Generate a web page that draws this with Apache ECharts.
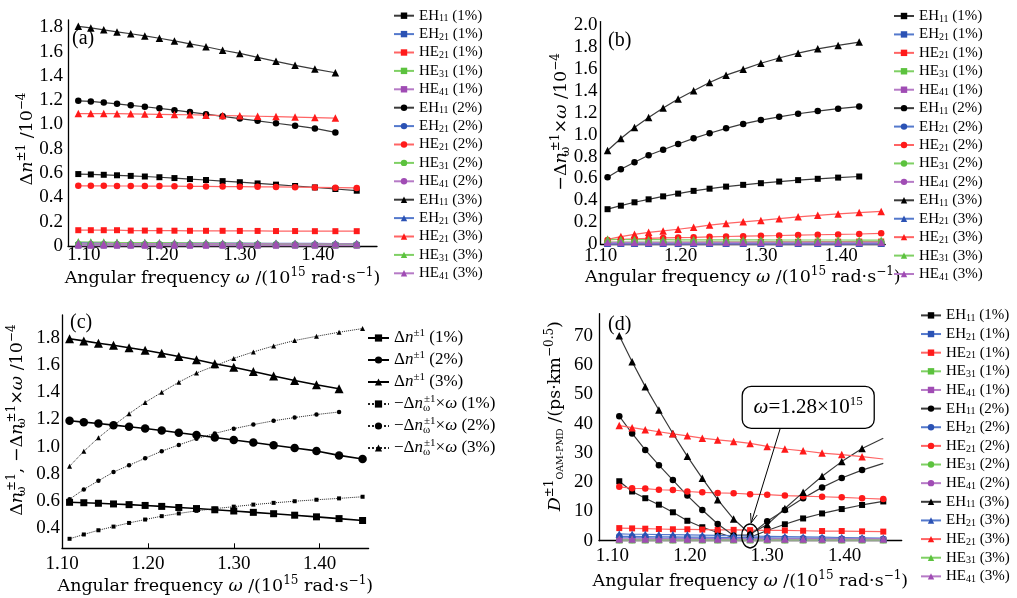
<!DOCTYPE html>
<html>
<head>
<meta charset="utf-8">
<title>OAM-PMD</title>
<script src="https://cdn.jsdelivr.net/npm/echarts@6.0.0/dist/echarts.min.js"></script>
<style>
  html, body { margin: 0; padding: 0; background: #fff; }
  #main { width: 1017px; height: 598px; }
</style>
</head>
<body>
<div id="main"></div>
<script>
// angular frequency samples, 10^15 rad/s (lambda 1725 ... 1300 nm, step 25 nm)
var omega = [1.0927, 1.1088, 1.1254, 1.1424, 1.1600, 1.1781, 1.1968, 1.2161, 1.2360, 1.2566,
             1.2779, 1.3000, 1.3228, 1.3464, 1.3709, 1.3963, 1.4226, 1.4500];

var xTicks  = [1.10, 1.20, 1.30, 1.40];
var yTicksA = [0, 0.2, 0.4, 0.6, 0.8, 1.0, 1.2, 1.4, 1.6, 1.8];
var yTicksB = [0, 0.2, 0.4, 0.6, 0.8, 1.0, 1.2, 1.4, 1.6, 1.8, 2.0];
var yTicksC = [0.4, 0.6, 0.8, 1.0, 1.2, 1.4, 1.6, 1.8];
var yTicksD = [0, 10, 20, 30, 40, 50, 60, 70];

// Δn of EH11 (10^-4), used in (a) and (c)
var dn1 = [0.592, 0.589, 0.586, 0.582, 0.577, 0.572, 0.566, 0.559, 0.551, 0.543, 0.534, 0.525, 0.515, 0.505, 0.494, 0.482, 0.469, 0.455];
var dn2 = [1.195, 1.19, 1.18, 1.17, 1.158, 1.146, 1.133, 1.118, 1.102, 1.085, 1.067, 1.049, 1.03, 1.01, 0.99, 0.968, 0.935, 0.908];
var dn3 = [1.808, 1.795, 1.779, 1.762, 1.747, 1.729, 1.71, 1.688, 1.664, 1.64, 1.611, 1.585, 1.553, 1.52, 1.487, 1.456, 1.426];

// (a) other modes, from omega[0]
var aHE21_1 = [0.13, 0.13, 0.13, 0.13, 0.127, 0.127, 0.126, 0.126, 0.125, 0.125, 0.125, 0.124, 0.124, 0.123, 0.123, 0.122, 0.122, 0.122];
var aHE21_2 = [0.495, 0.495, 0.495, 0.494, 0.494, 0.493, 0.493, 0.492, 0.491, 0.49, 0.489, 0.488, 0.487, 0.486, 0.484, 0.482, 0.48, 0.478];
var aHE21_3 = [1.09, 1.09, 1.09, 1.089, 1.088, 1.086, 1.084, 1.082, 1.08, 1.077, 1.074, 1.071, 1.068, 1.065, 1.061, 1.057, 1.053];
var aEH21_1 = [0.006, 0.006, 0.006, 0.006, 0.006, 0.006, 0.006, 0.006, 0.006, 0.006, 0.006, 0.006, 0.006, 0.006, 0.006, 0.006, 0.006, 0.006];
var aEH21_2 = [0.013, 0.013, 0.013, 0.013, 0.013, 0.013, 0.013, 0.013, 0.013, 0.013, 0.013, 0.013, 0.013, 0.013, 0.013, 0.013, 0.013, 0.013];
var aEH21_3 = [0.028, 0.028, 0.027, 0.027, 0.026, 0.026, 0.025, 0.025, 0.024, 0.024, 0.023, 0.023, 0.022, 0.022, 0.021, 0.021, 0.02, 0.02];
var aHE31_1 = [0.007, 0.007, 0.007, 0.007, 0.007, 0.007, 0.007, 0.007, 0.007, 0.007, 0.007, 0.007, 0.007, 0.007, 0.007, 0.007, 0.007, 0.007];
var aHE31_2 = [0.015, 0.015, 0.015, 0.014, 0.014, 0.014, 0.014, 0.013, 0.013, 0.013, 0.013, 0.012, 0.012, 0.012, 0.012, 0.011, 0.011, 0.011];
var aHE31_3 = [0.035, 0.033, 0.032, 0.03, 0.029, 0.028, 0.027, 0.026, 0.025, 0.024, 0.023, 0.022, 0.021, 0.02, 0.019, 0.018, 0.017, 0.016];
var aHE41_1 = [0.003, 0.003, 0.003, 0.003, 0.003, 0.003, 0.003, 0.003, 0.003, 0.003, 0.003, 0.003, 0.003, 0.003, 0.003, 0.003, 0.003, 0.003];
var aHE41_2 = [0.007, 0.007, 0.007, 0.007, 0.007, 0.007, 0.007, 0.007, 0.007, 0.007, 0.007, 0.007, 0.007, 0.007, 0.007, 0.007, 0.007, 0.007];
var aHE41_3 = [0.021, 0.021, 0.021, 0.02, 0.02, 0.02, 0.02, 0.02, 0.019, 0.019, 0.019, 0.019, 0.019, 0.018, 0.018, 0.018, 0.018, 0.018];

// -Δn_ω × ω of EH11 (10^-4), from omega[1], used in (b) and (c)
var dnw1 = [0.32, 0.352, 0.383, 0.41, 0.437, 0.462, 0.487, 0.507, 0.526, 0.542, 0.557, 0.572, 0.585, 0.597, 0.608, 0.618, 0.63];
var dnw2 = [0.612, 0.684, 0.748, 0.812, 0.862, 0.914, 0.966, 1.012, 1.057, 1.097, 1.132, 1.162, 1.19, 1.214, 1.236, 1.255];
var dnw3 = [0.855, 0.965, 1.065, 1.155, 1.242, 1.325, 1.4, 1.475, 1.542, 1.595, 1.65, 1.698, 1.742, 1.782, 1.813, 1.843, 1.87];

// (b) other modes, from omega[1]
var bHE21_1 = [0.012, 0.013, 0.014, 0.015, 0.016, 0.017, 0.018, 0.019, 0.02, 0.021, 0.022, 0.022, 0.023, 0.024, 0.024, 0.025, 0.025];
var bHE21_2 = [0.04, 0.046, 0.05, 0.054, 0.058, 0.061, 0.064, 0.068, 0.071, 0.074, 0.077, 0.08, 0.084, 0.087, 0.09, 0.094, 0.1];
var bHE21_3 = [0.045, 0.07, 0.091, 0.109, 0.122, 0.137, 0.155, 0.175, 0.19, 0.205, 0.218, 0.234, 0.25, 0.264, 0.277, 0.289, 0.3];
var bEH21_1 = [0.004, 0.004, 0.004, 0.004, 0.004, 0.004, 0.004, 0.004, 0.004, 0.004, 0.004, 0.004, 0.004, 0.004, 0.004, 0.004, 0.004];
var bEH21_2 = [0.007, 0.007, 0.007, 0.007, 0.007, 0.007, 0.007, 0.007, 0.007, 0.007, 0.007, 0.007, 0.007, 0.007, 0.007, 0.007, 0.007];
var bEH21_3 = [0.012, 0.012, 0.012, 0.012, 0.012, 0.012, 0.012, 0.012, 0.012, 0.012, 0.012, 0.012, 0.012, 0.012, 0.012, 0.012, 0.012];
var bHE31_1 = [0.01, 0.01, 0.01, 0.01, 0.01, 0.01, 0.01, 0.01, 0.01, 0.01, 0.01, 0.01, 0.01, 0.01, 0.01, 0.01, 0.01];
var bHE31_2 = [0.02, 0.02, 0.02, 0.02, 0.02, 0.02, 0.02, 0.02, 0.02, 0.02, 0.02, 0.02, 0.02, 0.02, 0.02, 0.02, 0.02];
var bHE31_3 = [0.045, 0.044, 0.043, 0.042, 0.042, 0.041, 0.041, 0.04, 0.04, 0.04, 0.04, 0.039, 0.039, 0.039, 0.039, 0.038, 0.038];
var bHE41_1 = [0.004, 0.004, 0.004, 0.004, 0.004, 0.004, 0.004, 0.004, 0.004, 0.004, 0.004, 0.004, 0.004, 0.004, 0.004, 0.004, 0.004];
var bHE41_2 = [0.01, 0.01, 0.01, 0.01, 0.01, 0.01, 0.01, 0.01, 0.01, 0.01, 0.01, 0.01, 0.01, 0.01, 0.01, 0.01, 0.01];
var bHE41_3 = [0.018, 0.018, 0.018, 0.018, 0.018, 0.018, 0.018, 0.018, 0.018, 0.018, 0.018, 0.018, 0.018, 0.018, 0.018, 0.018, 0.018];

// (d) D OAM-PMD (ps·km^-0.5), from omega[1]
var dEH11_1 = [20.3, 16.8, 14.5, 12.3, 9.7, 6.8, 4.6, 2.8, 1.0, 1.2, 3.5, 5.6, 7.6, 9.3, 10.8, 12.2, 13.4];
var dEH11_2 = [42.5, 36.6, 31.0, 25.8, 20.7, 15.4, 10.5, 5.7, 1.8, 2.0, 6.6, 10.5, 14.5, 18.2, 21.4, 24.1];
var dEH11_3 = [70.0, 61.1, 52.6, 44.6, 36.6, 28.8, 21.3, 14.0, 7.4, 2.3, 5.5, 11.0, 16.5, 22.0, 27.0, 31.5];
var dHE21_1 = [4.3, 4.2, 4.1, 4.0, 3.9, 3.9, 3.8, 3.7, 3.7, 3.6, 3.5, 3.5, 3.4, 3.3, 3.3, 3.2, 3.1];
var dHE21_2 = [18.4, 17.9, 17.8, 17.4, 17.3, 16.8, 16.5, 16.3, 16.2, 15.9, 15.7, 15.4, 15.2, 15.0, 14.8, 14.5, 14.2];
var dHE21_3 = [39.3, 38.6, 37.9, 37.2, 36.5, 35.8, 35.0, 34.4, 33.9, 33.2, 32.2, 31.3, 30.7, 29.9, 29.4, 28.7];
var dEH21_1 = [1.0, 1.0, 0.95, 0.9, 0.9, 0.85, 0.8, 0.8, 0.75, 0.7, 0.65, 0.6, 0.6, 0.55, 0.5, 0.45, 0.4];
var dEH21_2 = [1.5, 1.45, 1.4, 1.35, 1.3, 1.25, 1.2, 1.15, 1.1, 1.05, 1.0, 0.9, 0.85, 0.8, 0.7, 0.65, 0.6];
var dEH21_3 = [2.3, 2.2, 2.2, 2.1, 2.1, 2.0, 1.9, 1.8, 1.7, 1.6, 1.5, 1.4, 1.3, 1.2, 1.1, 1.0, 0.9];
var dHE31_1 = [0.15, 0.15, 0.15, 0.15, 0.15, 0.15, 0.15, 0.15, 0.15, 0.15, 0.15, 0.15, 0.15, 0.15, 0.15, 0.15, 0.15];
var dHE31_2 = [0.25, 0.25, 0.25, 0.25, 0.25, 0.25, 0.25, 0.25, 0.25, 0.25, 0.25, 0.25, 0.25, 0.25, 0.25, 0.25, 0.25];
var dHE31_3 = [0.4, 0.4, 0.4, 0.4, 0.4, 0.4, 0.4, 0.4, 0.4, 0.4, 0.4, 0.4, 0.4, 0.4, 0.4, 0.4, 0.4];
var dHE41_1 = [0.2, 0.2, 0.2, 0.2, 0.2, 0.2, 0.2, 0.2, 0.2, 0.2, 0.2, 0.2, 0.2, 0.2, 0.2, 0.2, 0.2];
var dHE41_2 = [0.35, 0.35, 0.35, 0.35, 0.35, 0.35, 0.35, 0.35, 0.35, 0.35, 0.35, 0.35, 0.35, 0.35, 0.35, 0.35, 0.35];
var dHE41_3 = [0.6, 0.6, 0.6, 0.6, 0.6, 0.6, 0.6, 0.6, 0.6, 0.6, 0.6, 0.6, 0.6, 0.6, 0.6, 0.6, 0.6];
// (d) fitted lines run on past the last marker to omega[17]
var dFitEnd = {'EH11 (2%)': 26.4, 'EH11 (3%)': 35.0, 'HE21 (3%)': 27.9};

// annotation anchors in (d), data units
var circleAt = [1.2779, 1.6];
var boxAt = [1.353, 45.5];

var serif = '"Liberation Serif", "DejaVu Serif", serif';
var wide = '"DejaVu Serif", "Liberation Serif", serif';

var markColor = {EH11: '#000000', EH21: '#2b52b4', HE21: '#ff1a1a', HE31: '#5cc23e', HE41: '#a04cb4'};
var lineColor = {EH11: '#3a3a3a', EH21: '#5479cc', HE21: '#ff6464', HE31: '#7fd064', HE41: '#b67ac6'};
var symbolOf = {'1': 'rect', '2': 'circle', '3': 'triangle'};
var sizeOf = {'1': 6, '2': 6.5, '3': 7.5};

function pts(start, vals) {
    var out = [];
    for (var i = 0; i < vals.length; i++) {
        out.push([omega[start + i], vals[i]]);
    }
    return out;
}

// name, start index, values
var panelA = [
    ['EH11 (1%)', 0, dn1], ['EH21 (1%)', 0, aEH21_1], ['HE21 (1%)', 0, aHE21_1], ['HE31 (1%)', 0, aHE31_1], ['HE41 (1%)', 0, aHE41_1],
    ['EH11 (2%)', 0, dn2.slice(0, 17)], ['EH21 (2%)', 0, aEH21_2], ['HE21 (2%)', 0, aHE21_2], ['HE31 (2%)', 0, aHE31_2], ['HE41 (2%)', 0, aHE41_2],
    ['EH11 (3%)', 0, dn3], ['EH21 (3%)', 0, aEH21_3], ['HE21 (3%)', 0, aHE21_3], ['HE31 (3%)', 0, aHE31_3], ['HE41 (3%)', 0, aHE41_3]
];
var panelB = [
    ['EH11 (1%)', 1, dnw1.slice(0, 16)], ['EH21 (1%)', 1, bEH21_1], ['HE21 (1%)', 1, bHE21_1], ['HE31 (1%)', 1, bHE31_1], ['HE41 (1%)', 1, bHE41_1],
    ['EH11 (2%)', 1, dnw2], ['EH21 (2%)', 1, bEH21_2], ['HE21 (2%)', 1, bHE21_2], ['HE31 (2%)', 1, bHE31_2], ['HE41 (2%)', 1, bHE41_2],
    ['EH11 (3%)', 1, dnw3.slice(0, 16)], ['EH21 (3%)', 1, bEH21_3], ['HE21 (3%)', 1, bHE21_3], ['HE31 (3%)', 1, bHE31_3], ['HE41 (3%)', 1, bHE41_3]
];
var panelD = [
    ['EH11 (1%)', 1, dEH11_1], ['EH21 (1%)', 1, dEH21_1], ['HE21 (1%)', 1, dHE21_1], ['HE31 (1%)', 1, dHE31_1], ['HE41 (1%)', 1, dHE41_1],
    ['EH11 (2%)', 1, dEH11_2], ['EH21 (2%)', 1, dEH21_2], ['HE21 (2%)', 1, dHE21_2], ['HE31 (2%)', 1, dHE31_2], ['HE41 (2%)', 1, dHE41_2],
    ['EH11 (3%)', 1, dEH11_3], ['EH21 (3%)', 1, dEH21_3], ['HE21 (3%)', 1, dHE21_3], ['HE31 (3%)', 1, dHE31_3], ['HE41 (3%)', 1, dHE41_3]
];
// (c): name, start, values, symbol, size, dotted?
var panelC = [
    ['Δn±1 (1%)', 1, dn1.slice(1), 'rect', 7, false],
    ['Δn±1 (2%)', 1, dn2.slice(1), 'circle', 8.5, false],
    ['Δn±1 (3%)', 1, dn3.slice(1), 'triangle', 9, false],
    ['−Δnω±1×ω (1%)', 1, dnw1, 'rect', 4, true],
    ['−Δnω±1×ω (2%)', 1, dnw2, 'circle', 4.5, true],
    ['−Δnω±1×ω (3%)', 1, dnw3, 'triangle', 5, true]
];
var legendC = {
    'Δn±1 (1%)': 'Δ{i|n}{p|±1} (1%)',
    'Δn±1 (2%)': 'Δ{i|n}{p|±1} (2%)',
    'Δn±1 (3%)': 'Δ{i|n}{p|±1} (3%)',
    '−Δnω±1×ω (1%)': '−Δ{i|n}{z|ω}{p|±1}×{i|ω} (1%)',
    '−Δnω±1×ω (2%)': '−Δ{i|n}{z|ω}{p|±1}×{i|ω} (2%)',
    '−Δnω±1×ω (3%)': '−Δ{i|n}{z|ω}{p|±1}×{i|ω} (3%)'
};

var series = [];
function addModes(list, gi, fitEnd) {
    list.forEach(function (row) {
        var mode = row[0].slice(0, 4), pct = row[0].charAt(6);
        var data = pts(row[1], row[2]);
        if (fitEnd && fitEnd[row[0]] != null) {
            data.push({value: [omega[17], fitEnd[row[0]]], symbol: 'none'});
        }
        series.push({
            type: 'line', name: row[0], xAxisIndex: gi, yAxisIndex: gi,
            data: data,
            symbol: symbolOf[pct], symbolSize: sizeOf[pct],
            itemStyle: {color: markColor[mode]},
            lineStyle: {color: lineColor[mode], width: 1.2},
            animation: false, clip: false
        });
    });
}
addModes(panelA, 0);
addModes(panelB, 1);
panelC.forEach(function (row) {
    series.push({
        type: 'line', name: row[0], xAxisIndex: 2, yAxisIndex: 2,
        data: pts(row[1], row[2]),
        symbol: row[3], symbolSize: row[4],
        itemStyle: {color: '#000'},
        lineStyle: {color: row[5] ? '#222' : '#000', width: row[5] ? 1 : 1.6, type: row[5] ? 'dotted' : 'solid'},
        animation: false, clip: false
    });
});
addModes(panelD, 3, dFitEnd);

var nameRich = {
    i: {fontFamily: wide, fontSize: 17.5, fontStyle: 'italic', lineHeight: 22},
    p: {fontFamily: wide, fontSize: 12, lineHeight: 8, verticalAlign: 'top'},
    z: {fontFamily: wide, fontSize: 12, lineHeight: 8, verticalAlign: 'bottom', width: 1},
    s: {fontFamily: wide, fontSize: 9.5, lineHeight: 8, verticalAlign: 'bottom'}
};
function nameStyle(pad) {
    return {color: '#000', fontFamily: wide, fontSize: 17.5, lineHeight: 22, rich: nameRich, padding: pad || 0};
}
var xName = 'Angular frequency {i|ω} /(10{p|15} rad·s{p|−1})';

function xAxis(gi, min, max, labelMargin, nameGap, ticks) {
    return {
        type: 'value', gridIndex: gi, min: min, max: max,
        axisLine: {show: true, onZero: false, lineStyle: {color: '#000', width: 1.3}},
        axisTick: {show: !!ticks, inside: true, length: 5, customValues: xTicks, lineStyle: {color: '#000'}},
        axisLabel: {customValues: xTicks, color: '#000', fontFamily: serif, fontSize: 19, margin: labelMargin,
            formatter: function (v) { return v.toFixed(2); }},
        splitLine: {show: false},
        name: xName, nameLocation: 'middle', nameGap: nameGap, nameMoveOverlap: false,
        nameTextStyle: nameStyle()
    };
}
function yAxis(gi, min, max, ticks, digits, labelMargin, name, nameGap, pad) {
    return {
        type: 'value', gridIndex: gi, min: min, max: max,
        axisLine: {show: true, onZero: false, lineStyle: {color: '#000', width: 1.3}},
        axisTick: {show: false},
        axisLabel: {customValues: ticks, color: '#000', fontFamily: serif, fontSize: 19, margin: labelMargin,
            formatter: function (v) { return v === 0 ? '0' : v.toFixed(digits); }},
        splitLine: {show: false},
        name: name, nameLocation: 'middle', nameGap: nameGap, nameMoveOverlap: false,
        nameTextStyle: nameStyle(pad)
    };
}

var modeNames = panelA.map(function (r) { return r[0]; });
function modeLegend(left, top, gap) {
    return {
        data: modeNames, orient: 'vertical', left: left, top: top,
        itemWidth: 20, itemHeight: 8, itemGap: gap, padding: 0, selectedMode: false,
        textStyle: {color: '#000', fontFamily: serif, fontSize: 15, lineHeight: 16,
            rich: {s: {fontFamily: serif, fontSize: 10, lineHeight: 6, verticalAlign: 'bottom'}}},
        formatter: function (n) { return n.replace(/^(EH|HE)(\d\d)/, '$1{s|$2}'); }
    };
}

var chart = echarts.init(document.getElementById('main'), null, {renderer: 'canvas'});
chart.setOption({
    animation: false,
    backgroundColor: '#fff',
    textStyle: {fontFamily: serif},
    grid: [
        {left: 68, top: 20, width: 309, height: 226, outerBoundsMode: 'none'},
        {left: 600.5, top: 21.6, width: 284.7, height: 222.7, outerBoundsMode: 'none'},
        {left: 62, top: 315, width: 306.6, height: 233.3, outerBoundsMode: 'none'},
        {left: 599, top: 313.7, width: 302.7, height: 227, outerBoundsMode: 'none'}
    ],
    xAxis: [
        xAxis(0, 1.0795, 1.476, 0, 21, false),
        xAxis(1, 1.10, 1.455, 2, 21.7, false),
        xAxis(2, 1.10, 1.457, 6, 26.7, true),
        xAxis(3, 1.0826, 1.4738, 6, 29.3, false)
    ],
    yAxis: [
        yAxis(0, 0, 1.86, yTicksA, 1, 5, 'Δ{i|n}{p|±1} /10{p|−4}', 30, [0, 12, 0, 0]),
        yAxis(1, 0, 2.03, yTicksB, 1, 3, '−Δ{i|n}{z|ω}{p|±1}×{i|ω} /10{p|−4}', 28.5, [0, 0, 0, 22]),
        yAxis(2, 0.25, 1.97, yTicksC, 1, 2, 'Δ{i|n}{z|ω}{p|±1}, −Δ{i|n}{z|ω}{p|±1}×{i|ω} /10{p|−4}', 34, [0, 0, 0, 23]),
        yAxis(3, 0, 77.5, yTicksD, 0, 6, '{i|D}{p|±1}{s|OAM-PMD} /(ps·km{p|−0.5})', 33, [0, 0, 0, 22])
    ],
    legend: [
        modeLegend(393, 7.7, 2.4),
        modeLegend(893, 8, 2.43),
        {
            data: panelC.map(function (r) { return r[0]; }), orient: 'vertical', left: 367, top: 328,
            itemWidth: 21, itemHeight: 9, itemGap: 2, padding: 0, selectedMode: false,
            textStyle: {color: '#000', fontFamily: serif, fontSize: 17, lineHeight: 20,
                rich: {
                    i: {fontFamily: serif, fontSize: 17, fontStyle: 'italic', lineHeight: 20},
                    p: {fontFamily: serif, fontSize: 11, lineHeight: 6, verticalAlign: 'top'},
                    z: {fontFamily: serif, fontSize: 11, lineHeight: 6, verticalAlign: 'bottom', width: 1}
                }},
            formatter: function (n) { return legendC[n]; }
        },
        modeLegend(920, 307.4, 2.64)
    ],
    series: series
});

// panel labels and the annotation of (d), placed through the axes
var c = chart.convertToPixel({xAxisIndex: 3, yAxisIndex: 3}, circleAt);
var b = chart.convertToPixel({xAxisIndex: 3, yAxisIndex: 3}, boxAt);
var tip = [c[0] + 1, c[1] - 13];
var tail = [b[0] - 28, b[1] + 21];
var ang = Math.atan2(tip[1] - tail[1], tip[0] - tail[0]);
function back(da) {
    return [tip[0] - 10 * Math.cos(ang + da), tip[1] - 10 * Math.sin(ang + da)];
}
var labelFont = {fontFamily: serif, fontSize: 20, fill: '#000'};
function panelLabel(text, x, y) {
    return {type: 'text', x: x, y: y, z: 100, style: Object.assign({text: text}, labelFont)};
}
chart.setOption({
    graphic: [
        panelLabel('(a)', 72, 29),
        panelLabel('(b)', 608, 31),
        panelLabel('(c)', 70, 313),
        panelLabel('(d)', 608, 315),
        {type: 'ellipse', z: 100, shape: {cx: c[0], cy: c[1], rx: 8.5, ry: 12},
            style: {fill: null, stroke: '#000', lineWidth: 1.3}},
        {type: 'line', z: 100, shape: {x1: tail[0], y1: tail[1], x2: tip[0], y2: tip[1]},
            style: {stroke: '#000', lineWidth: 1}},
        {type: 'polyline', z: 100, shape: {points: [back(0.35), tip, back(-0.35)]},
            style: {fill: null, stroke: '#000', lineWidth: 1}},
        {type: 'rect', z: 100, shape: {x: b[0] - 66, y: b[1] - 21, width: 132, height: 42, r: 9},
            style: {fill: '#fff', stroke: '#000', lineWidth: 1.3}},
        {type: 'text', z: 101, x: b[0], y: b[1],
            style: {text: '{i|ω}=1.28×10{p|15}', align: 'center', verticalAlign: 'middle',
                fontFamily: serif, fontSize: 21, lineHeight: 24, fill: '#000',
                rich: {
                    i: {fontFamily: serif, fontSize: 21, fontStyle: 'italic', lineHeight: 24},
                    p: {fontFamily: serif, fontSize: 13, lineHeight: 8, verticalAlign: 'top'}
                }}}
    ]
});
</script>
</body>
</html>
